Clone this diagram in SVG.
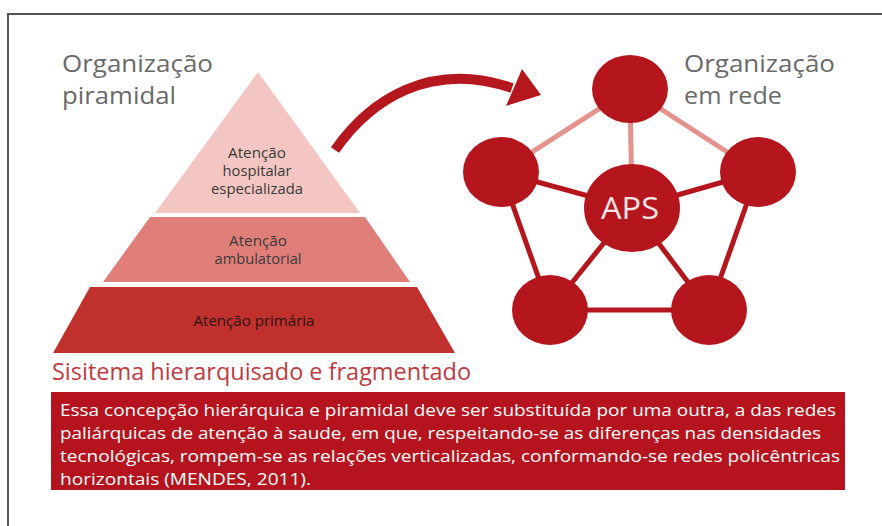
<svg xmlns="http://www.w3.org/2000/svg" width="882" height="526" viewBox="0 0 882 526">
<style>
.title{font-family:"Open Sans","Liberation Sans",sans-serif;font-size:23px;fill:#6a6a6a}
.lbl{font-family:"Open Sans","Liberation Sans",sans-serif;font-size:14px;fill:#3a3a3a;text-anchor:middle}
.node{fill:#b5161e}
.dark{stroke:#b5161e;stroke-width:5;fill:none}
.light{stroke:#e4928d;stroke-width:5;fill:none}
.body{font-family:"Open Sans","Liberation Sans",sans-serif;font-size:17px;fill:#ffffff}
</style>
<rect x="0" y="0" width="882" height="526" fill="#ffffff"/>
<rect x="8" y="14" width="884" height="530" fill="none" stroke="#555555" stroke-width="2"/>

<g id="title-left">
<text class="title" x="62" y="72" textLength="151" lengthAdjust="spacingAndGlyphs">Organização</text>
<text class="title" x="62" y="104" textLength="114" lengthAdjust="spacingAndGlyphs">piramidal</text>
</g>
<g id="title-right">
<text class="title" x="684" y="72" textLength="151" lengthAdjust="spacingAndGlyphs">Organização</text>
<text class="title" x="684" y="104" textLength="98" lengthAdjust="spacingAndGlyphs">em rede</text>
</g>

<g id="pyr-top">
<polygon points="258,72 360,213 155,213" fill="#f3c6c3"/>
<text class="lbl" x="257" y="158" textLength="58" lengthAdjust="spacingAndGlyphs">Atenção</text>
<text class="lbl" x="257" y="176" textLength="69" lengthAdjust="spacingAndGlyphs">hospitalar</text>
<text class="lbl" x="257" y="194" textLength="92" lengthAdjust="spacingAndGlyphs">especializada</text>
</g>
<g id="pyr-mid">
<polygon points="150,217 365,217 410,282 103,282" fill="#e07f7a"/>
<text class="lbl" x="258" y="246" textLength="58" lengthAdjust="spacingAndGlyphs">Atenção</text>
<text class="lbl" x="258" y="264" textLength="87" lengthAdjust="spacingAndGlyphs">ambulatorial</text>
</g>
<g id="pyr-bottom">
<polygon points="90,287 417,287 455,353 53,353" fill="#c0302c"/>
<text class="lbl" x="254" y="326" textLength="121" lengthAdjust="spacingAndGlyphs" style="fill:#2a1515">Atenção primária</text>
</g>

<g id="connectors">
<path d="M335,150 C370,100 430,60 512,88" stroke="#b5171f" stroke-width="10" fill="none"/>
<polygon points="522,69 541,95 506,106" fill="#b5171f"/>
<line class="light" x1="630" y1="89" x2="501" y2="172"/>
<line class="light" x1="630" y1="89" x2="758" y2="172"/>
<line class="light" x1="630" y1="89" x2="632" y2="208"/>
<line class="dark" x1="501" y1="172" x2="632" y2="208"/>
<line class="dark" x1="758" y1="172" x2="632" y2="208"/>
<line class="dark" x1="501" y1="172" x2="550" y2="310"/>
<line class="dark" x1="758" y1="172" x2="709" y2="310"/>
<line class="dark" x1="632" y1="208" x2="550" y2="310"/>
<line class="dark" x1="632" y1="208" x2="709" y2="310"/>
<line class="dark" x1="550" y1="310" x2="709" y2="310"/>
</g>

<g id="n-top"><ellipse class="node" cx="630" cy="89" rx="38" ry="34"/></g>
<g id="n-left"><ellipse class="node" cx="501" cy="172" rx="38" ry="35"/></g>
<g id="n-right"><ellipse class="node" cx="758" cy="172" rx="38" ry="35"/></g>
<g id="n-bl"><ellipse class="node" cx="550" cy="310" rx="38" ry="35"/></g>
<g id="n-br"><ellipse class="node" cx="709" cy="310" rx="38" ry="35"/></g>
<g id="n-aps">
<ellipse class="node" cx="632" cy="208" rx="48" ry="44"/>
<text x="630" y="219" text-anchor="middle" font-family="Open Sans, Liberation Sans, sans-serif" font-size="31" fill="#f7e4e4" textLength="58" lengthAdjust="spacingAndGlyphs">APS</text>
</g>

<g id="subtitle">
<text x="52" y="380" font-family="Open Sans, Liberation Sans, sans-serif" font-size="23" fill="#bf3a3f" textLength="419" lengthAdjust="spacingAndGlyphs">Sisitema hierarquisado e fragmentado</text>
</g>

<g id="quote">
<rect x="51" y="392" width="794" height="98" fill="#b5141e"/>
<text class="body" x="60" y="416" textLength="776" lengthAdjust="spacingAndGlyphs">Essa concepção hierárquica e piramidal deve ser substituída por uma outra, a das redes</text>
<text class="body" x="60" y="439" textLength="761" lengthAdjust="spacingAndGlyphs">paliárquicas de atenção à saude, em que, respeitando-se as diferenças nas densidades</text>
<text class="body" x="60" y="462" textLength="780" lengthAdjust="spacingAndGlyphs">tecnológicas, rompem-se as relações verticalizadas, conformando-se redes policêntricas</text>
<text class="body" x="60" y="485" textLength="251" lengthAdjust="spacingAndGlyphs">horizontais (MENDES, 2011).</text>
</g>
</svg>
